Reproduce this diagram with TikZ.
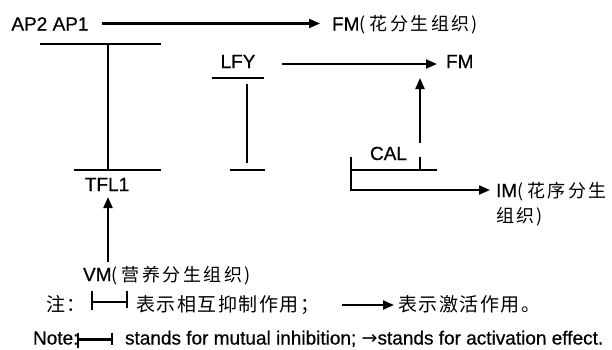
\documentclass[tikz,border=0pt]{standalone}
\usepackage{fontspec}
\setmainfont{Liberation Sans}[FakeBold=0.6]
\newfontfamily\cjk{Noto Sans CJK SC}
\newfontfamily\symfont{DejaVu Sans}
\usetikzlibrary{arrows.meta}
% Chinese text inside labels and in the legend
\newcommand\zh[1]{{\cjk\fontsize{18}{20}\selectfont\addfontfeature{LetterSpace=14}#1}}
\newcommand\zhleg[1]{{\cjk\fontsize{19}{21}\selectfont\addfontfeature{LetterSpace=8}#1}}
\begin{document}
\begin{tikzpicture}[x=1pt,y=-1pt,
  line width=2.1pt,
  lab/.style={inner sep=0pt, font=\fontsize{19}{22}\selectfont},
  notelab/.style={inner sep=0pt, font=\fontsize{19}{22}\selectfont},
  act/.style={-{Triangle[length=11pt,width=9pt]}},
]
\useasboundingbox (0,0) rectangle (612,349);

% gene and tissue labels
\node[lab, anchor=base] (ap) at (50,30.5) {AP2 AP1};
\node[lab, anchor=base west] (fmA) at (331,30.5) {FM\zh{(\hspace{4pt}花分生组织\hspace{2pt})}};
\node[lab, anchor=base] (lfy) at (238,68) {LFY};
\node[lab, anchor=base west] (fmB) at (445,68) {FM};
\node[lab, anchor=base] (cal) at (388.5,160) {CAL};
\node[lab, anchor=base west] (im) at (495,197) {IM\zh{(\hspace{4pt}花序分生}};
\node[lab, anchor=base west] (im2) at (495,222) {\zh{组织\hspace{2pt})}};
\node[lab, anchor=base] (tfl) at (107,191) {TFL1};
\node[lab, anchor=base west] (vm) at (82,281) {VM\zh{(\hspace{4pt}营养分生组织\hspace{2pt})}};

% activation arrows
\draw[act, shorten <=12pt, shorten >=11pt] ([yshift=7pt]ap.base east) -- ([yshift=7pt]fmA.base west);
\draw[act, shorten <=26pt, shorten >=8pt] ([yshift=4pt]lfy.base east) -- ([yshift=4pt]fmB.base west);
\coordinate (calup) at (420,143);
\draw[act, shorten >=10pt] (calup) -- (calup |- fmB.base);
\coordinate (vmtop) at (108,262);
\draw[act, shorten >=6pt] (vmtop) -- (vmtop |- tfl.base);

% AP2/AP1 and TFL1: mutual inhibition
\coordinate (apT) at (108,44);
\coordinate (tflT) at (108,170);
\draw (apT) -- (tflT);
\draw ([xshift=-68pt]apT) -- ([xshift=53pt]apT);
\draw ([xshift=-34pt]tflT) -- ([xshift=53pt]tflT);

% LFY inhibition
\coordinate (lfyT) at (247,78);
\coordinate (lfyB) at (247,170);
\draw ([xshift=-35pt]lfyT) -- ([xshift=17pt]lfyT);
\draw ([yshift=-6pt]lfyT) -- ([yshift=7pt]lfyB);
\draw ([xshift=-17pt]lfyB) -- ([xshift=18pt]lfyB);

% CAL bracket and the branch to IM
\coordinate (calL) at (351,170);
\coordinate (calR) at (437,170);
\draw (calL) -- (calR);
\draw (420,157) -- (420,170);
\coordinate (calturn) at (351,190);
\draw[act, shorten >=5pt] (351,157) -- (calturn) -- (calturn -| im.base west);

% legend, Chinese line
\node[inner sep=0pt, anchor=base west] (zhu) at (45,311) {\zhleg{注：}};
\coordinate (lg1a) at (92,302);
\coordinate (lg1b) at (127,302);
\draw (lg1a) -- (lg1b);
\draw ([yshift=11pt]lg1a) -- ([yshift=-8pt]lg1a);
\draw ([yshift=11pt]lg1b) -- ([yshift=-6pt]lg1b);
\node[inner sep=0pt, anchor=base west] (leg1) at (135,311) {\zhleg{表示相互抑制作用；}};
\node[inner sep=0pt, anchor=base west] (leg2) at (397,311) {\zhleg{表示激活作用。}};
\coordinate (lgarr) at (342,305);
\draw[act, shorten >=3pt] (lgarr) -- (lgarr -| leg2.base west);

% legend, English line
\node[notelab, anchor=base west] (note) at (32,344.5) {Note:};
\coordinate (lg2a) at (78,339.5);
\coordinate (lg2b) at (112,339.5);
\draw (lg2a) -- (lg2b);
\draw ([yshift=7pt]lg2a) -- ([yshift=-8pt]lg2a);
\draw ([yshift=7pt]lg2b) -- ([yshift=-5pt]lg2b);
\node[notelab, anchor=base west] (notetxt) at (124,344.5) {stands for mutual inhibition; {\symfont →}stands for activation effect.};
\end{tikzpicture}
\end{document}
